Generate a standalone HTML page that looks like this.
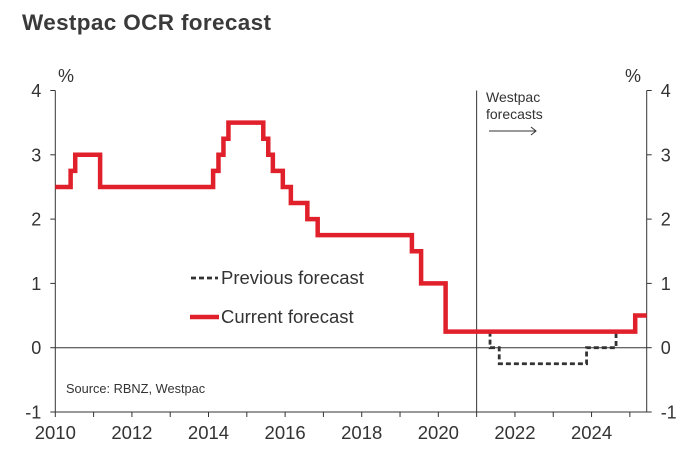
<!DOCTYPE html>
<html><head><meta charset="utf-8"><style>
html,body{margin:0;padding:0;background:#fff;width:700px;height:463px;overflow:hidden}
svg{display:block;font-family:"Liberation Sans",Arial,sans-serif}
</style></head><body>
<svg id="chart" width="700" height="463" viewBox="0 0 700 463">
<text x="22" y="30" font-size="22.5" font-weight="bold" fill="#3a3a3a" textLength="249">Westpac OCR forecast</text>
<g id="axes"></g>
<g id="series"></g>
<g id="legend">
  <line x1="191" y1="278" x2="218" y2="278" stroke="#333" stroke-width="2.8" stroke-dasharray="5,3"/>
  <text x="221" y="284" font-size="18.5" fill="#333">Previous forecast</text>
  <line x1="190" y1="317" x2="219" y2="317" stroke="#e0202a" stroke-width="4.5"/>
  <text x="221" y="323" font-size="18.5" fill="#333">Current forecast</text>
</g>
<text x="66" y="393" font-size="12.8" fill="#333">Source: RBNZ, Westpac</text>
<text x="486" y="102" font-size="14" fill="#333">Westpac</text>
<text x="486" y="119" font-size="14" fill="#333">forecasts</text>
<line x1="489" y1="131" x2="536" y2="131" stroke="#333" stroke-width="1"/>
<polyline points="531,127 536,131 531,135" fill="none" stroke="#333" stroke-width="1"/>
</svg>
<script>
const yTicks=[4,3,2,1,0,-1];
const xTicks=[2010,2012,2014,2016,2018,2020,2022,2024];
const currentT=[2010,2010.4,2010.52,2011.17,2014.12,2014.26,2014.39,2014.52,2015.43,2015.56,2015.68,2015.94,2016.15,2016.58,2016.85,2019.31,2019.55,2020.19,2025.14,2025.44];
const currentV=[2.5,2.75,3.0,2.5,2.75,3.0,3.25,3.5,3.25,3.0,2.75,2.5,2.25,2.0,1.75,1.5,1.0,0.25,0.5,0.5];
const previousT=[2021.35,2021.35,2021.59,2023.87,2024.64,2024.64];
const previousV=[0.25,0,-0.25,0,0.25,0.25];
const forecastStart=2021.0;

const L=55.3,R=646.7,T0=2010,T1=2025.44,Y0=347.7,PU=64.3;
const X=t=>L+(t-T0)/(T1-T0)*(R-L);
const Y=v=>Y0-v*PU;
const NS='http://www.w3.org/2000/svg';
function mk(tag,attrs,parent){const e=document.createElementNS(NS,tag);for(const k in attrs)e.setAttribute(k,attrs[k]);parent.appendChild(e);return e;}
const ax=document.getElementById('axes'),se=document.getElementById('series');
const c='#333';
let e;
e=mk('line',{x1:L,y1:Y(4),x2:L,y2:Y(-1),stroke:c,'stroke-width':1},ax);


e=mk('line',{x1:R,y1:Y(4),x2:R,y2:Y(-1),stroke:c,'stroke-width':1},ax);


e=mk('line',{x1:L,y1:Y(-1),x2:R,y2:Y(-1),stroke:c,'stroke-width':1},ax);


e=mk('line',{x1:L,y1:Y(0),x2:R,y2:Y(0),stroke:c,'stroke-width':1},ax);


e=mk('line',{x1:X(forecastStart),y1:Y(4),x2:X(forecastStart),y2:Y(-1),stroke:c,'stroke-width':1},ax);


yTicks.forEach(v=>{
  mk('line',{x1:L-5,y1:Y(v),x2:L,y2:Y(v),stroke:c},ax);
  mk('line',{x1:R,y1:Y(v),x2:R+5,y2:Y(v),stroke:c},ax);
  e=mk('text',{x:L-14,y:Y(v)+6.5,'font-size':18,fill:c,'text-anchor':'end'},ax);e.textContent=v;
  
  
  e=mk('text',{x:R+14,y:Y(v)+6.5,'font-size':18,fill:c},ax);e.textContent=v;
  
  
});
e=mk('text',{x:58,y:82,'font-size':18,fill:c},ax);e.textContent='%';


e=mk('text',{x:625,y:82,'font-size':18,fill:c},ax);e.textContent='%';


for(let yr=2010;yr<=2025;yr++){mk('line',{x1:X(yr),y1:Y(-1),x2:X(yr),y2:Y(-1)+5,stroke:c},ax);}
xTicks.forEach(yr=>{
  e=mk('text',{x:X(yr),y:439,'font-size':18.5,fill:c,'text-anchor':'middle'},ax);e.textContent=yr;
  
  
});
function stepPts(ts,vs){let p=[];for(let i=0;i<ts.length;i++){if(i>0)p.push(X(ts[i])+','+Y(vs[i-1]));p.push(X(ts[i])+','+Y(vs[i]));}return p.join(' ');}
e=mk('polyline',{points:stepPts(previousT,previousV),fill:'none',stroke:'#333','stroke-width':2.8,'stroke-dasharray':'5,3'},se);


e=mk('polyline',{points:stepPts(currentT,currentV),fill:'none',stroke:'#e0202a','stroke-width':4.5},se);


</script>
</body></html>
